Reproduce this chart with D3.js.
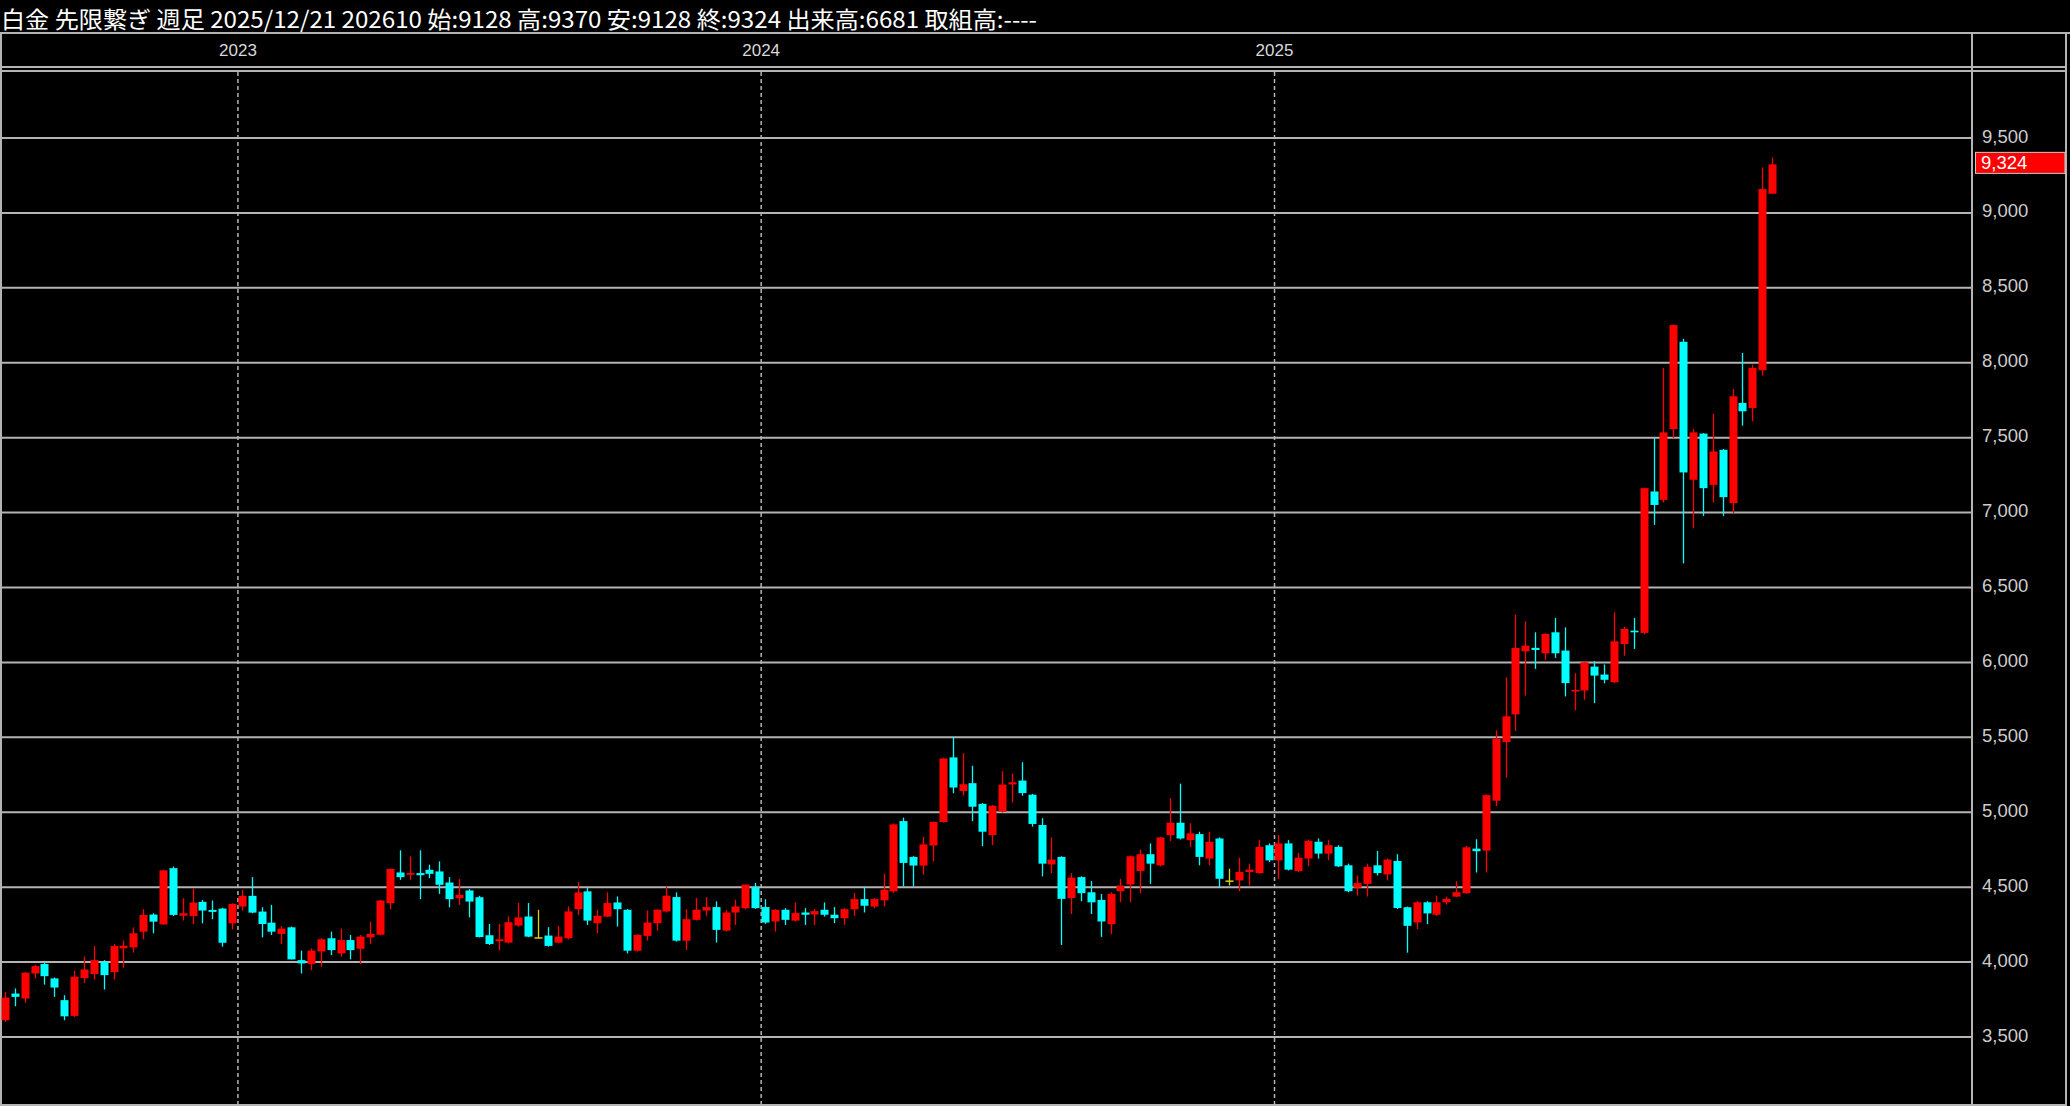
<!DOCTYPE html>
<html>
<head>
<meta charset="utf-8">
<script src="https://cdn.jsdelivr.net/npm/d3@7"></script>
<style>
  html, body { margin: 0; padding: 0; background: #000; }
</style>
</head>
<body>
<div id="box"></div>
<script>
// weekly candles, 2022/07/17 .. 2025/12/21 (week labelled by Sunday)
var firstWeek = new Date(2022, 6, 17);
var lastWeek = new Date(2025, 11, 21);

var openP = [3612,3790,3757,3924,3987,3891,3746,3641,3893,3920,4002,3933,4092,4098,4203,4317,4252,4627,4310,4308,
  4402,4348,4357,4259,4371,4442,4337,4263,4188,4232,4013,3987,4071,4159,4058,4147,4089,4165,4183,4393,
  4598,4583,4594,4616,4605,4531,4426,4478,4433,4179,4140,4130,4244,4304,4166,4177,4130,4159,4353,4472,
  4260,4304,4398,4349,4076,4175,4260,4338,4434,4143,4282,4344,4367,4210,4331,4360,4501,4367,4271,4349,
  4277,4331,4318,4349,4316,4293,4353,4420,4371,4412,4472,4941,4702,4644,4778,4935,5366,5142,5194,5056,
  4848,5004,5186,5211,5117,4915,4652,4702,4428,4567,4466,4415,4253,4473,4518,4608,4720,4646,4848,4930,
  4814,4854,4691,4825,4545,4545,4601,4594,4780,4679,4792,4608,4691,4803,4724,4769,4646,4496,4522,4646,
  4585,4675,4366,4265,4399,4316,4399,4437,4460,4757,4744,5077,5469,5653,6074,6097,6061,6201,6079,5806,
  5813,5972,5919,5868,6123,6212,6197,7141,7085,7558,8140,7219,7527,7185,7419,7063,7732,7698,7950,9128];
var highP = [3801,3824,3935,3980,4002,3897,3779,3942,4036,4107,4013,4121,4143,4232,4353,4326,4616,4638,4426,4493,
  4415,4411,4362,4393,4482,4567,4366,4382,4241,4237,4076,4092,4159,4203,4223,4181,4181,4270,4415,4625,
  4746,4705,4746,4650,4672,4567,4554,4487,4442,4254,4255,4304,4394,4394,4349,4233,4242,4371,4534,4494,
  4349,4465,4438,4353,4186,4344,4353,4505,4465,4353,4427,4434,4405,4349,4416,4517,4528,4420,4353,4360,
  4398,4360,4353,4398,4367,4360,4461,4499,4427,4590,4926,4964,4707,4836,4939,5364,5500,5395,5310,5061,
  5049,5274,5258,5334,5123,4960,4832,4706,4594,4572,4540,4455,4466,4556,4711,4751,4792,4836,5094,5191,
  4926,4870,4870,4832,4623,4697,4657,4814,4792,4848,4814,4729,4818,4825,4814,4780,4657,4578,4657,4742,
  4691,4720,4370,4406,4406,4444,4437,4540,4775,4820,5119,5547,5901,6318,6274,6201,6194,6296,6234,5928,
  6006,6008,5986,6334,6238,6296,7167,7497,7966,8256,8160,7558,7531,7660,7424,7825,8066,7988,9304,9370];
var lowP = [3600,3705,3728,3891,3850,3768,3612,3634,3862,3884,3817,3884,3964,4063,4152,4192,4248,4308,4277,4254,
  4259,4286,4103,4219,4344,4326,4165,4181,4121,4018,3924,3946,3969,4047,4036,4018,3987,4121,4179,4353,
  4549,4549,4420,4560,4455,4366,4382,4299,4165,4114,4078,4125,4237,4166,4159,4103,4125,4152,4315,4248,
  4193,4300,4237,4058,4070,4143,4210,4331,4137,4081,4277,4309,4130,4204,4248,4353,4356,4255,4204,4248,
  4271,4248,4248,4304,4260,4248,4309,4331,4360,4371,4461,4505,4505,4584,4673,4930,5127,5113,4941,4774,
  4780,4998,5065,5110,4904,4572,4594,4114,4321,4406,4321,4168,4186,4399,4399,4460,4522,4639,4809,4818,
  4769,4646,4646,4500,4511,4473,4511,4590,4668,4556,4612,4601,4639,4691,4679,4635,4466,4444,4437,4578,
  4545,4354,4063,4220,4253,4309,4383,4433,4456,4598,4598,5041,5232,5542,5779,5957,6017,6030,5773,5680,
  5751,5728,5861,5861,6045,6090,6188,6918,7067,7497,6661,6895,6978,7067,6978,6996,7580,7609,7915,9128];
var closeP = [3763,3768,3929,3973,3906,3830,3638,3902,3951,4013,3913,4107,4109,4192,4315,4270,4612,4315,4326,4397,
  4344,4335,4129,4388,4442,4330,4254,4203,4223,4018,3991,4076,4152,4080,4147,4080,4170,4188,4411,4621,
  4567,4594,4580,4589,4516,4420,4449,4404,4167,4121,4152,4266,4298,4170,4166,4108,4170,4338,4465,4277,
  4309,4394,4353,4076,4181,4264,4349,4443,4143,4286,4349,4367,4215,4331,4371,4517,4360,4264,4349,4282,
  4327,4316,4340,4316,4293,4353,4420,4376,4420,4483,4919,4662,4644,4785,4935,5359,5165,5187,5037,4870,
  5043,5184,5200,5128,4922,4657,4684,4422,4563,4460,4399,4271,4455,4511,4706,4720,4657,4832,4930,4825,
  4859,4702,4803,4556,4545,4601,4617,4769,4679,4792,4617,4697,4809,4724,4780,4639,4473,4527,4635,4594,
  4684,4361,4242,4399,4325,4399,4422,4466,4766,4740,5114,5491,5640,6097,6112,6083,6190,6061,5862,5817,
  6001,5912,5884,6141,6223,6201,7163,7051,7535,8251,7268,7535,7163,7408,7103,7776,7676,7966,9159,9324];

var volume = 6681;
var openInterest = "----";
var yearLabels = ["2023", "2024", "2025"];
var priceTicks = [3500, 4000, 4500, 5000, 5500, 6000, 6500, 7000, 7500, 8000, 8500, 9000, 9500];

var W = 2070, H = 1106;
var plotRight = 1972, plotTop = 71, axisRight = 2066;

var weeks = d3.timeSunday.range(firstWeek, d3.timeDay.offset(lastWeek, 1));
var candles = weeks.map(function(d, i) {
    return { date: d, o: openP[i], h: highP[i], l: lowP[i], c: closeP[i] };
});

var svg = d3.select("#box")
    .append("svg")
    .attr("width", W)
    .attr("height", H)
    .style("display", "block")
    .style("background", "#000");

var x = d3.scaleBand()
    .domain(weeks)
    .range([0, 1777])
    .padding(0);

var y = d3.scaleLinear()
    .domain([3500, 9500])
    .range([1037, 138]);

// header
var last = candles[candles.length - 1];
var fmtDate = d3.timeFormat("%Y/%m/%d");
var title = "白金 先限繋ぎ 週足 " + fmtDate(last.date) + " 202610 始:" + last.o + " 高:" + last.h +
    " 安:" + last.l + " 終:" + last.c + " 出来高:" + volume + " 取組高:" + openInterest;
svg.append("text")
    .attr("x", 1)
    .attr("y", 28)
    .attr("fill", "#ffffff")
    .attr("textLength", 1036)
    .attr("lengthAdjust", "spacingAndGlyphs")
    .style("font-family", "'Noto Sans CJK JP', sans-serif")
    .style("font-size", "23px")
    .text(title);

// frame
var frame = svg.append("g").attr("stroke", "#b4b4b4").attr("stroke-width", 2).attr("fill", "none");
frame.append("line").attr("x1", 0).attr("x2", W).attr("y1", 33).attr("y2", 33);
frame.append("line").attr("x1", 0).attr("x2", axisRight).attr("y1", 67).attr("y2", 67);
frame.append("line").attr("x1", 0).attr("x2", axisRight).attr("y1", 71).attr("y2", 71);
frame.append("line").attr("x1", 1).attr("x2", 1).attr("y1", 33).attr("y2", H);
frame.append("line").attr("x1", plotRight).attr("x2", plotRight).attr("y1", 33).attr("y2", H);
frame.append("line").attr("x1", axisRight).attr("x2", axisRight).attr("y1", 33).attr("y2", H);
frame.append("line").attr("x1", 0).attr("x2", axisRight).attr("y1", H - 1).attr("y2", H - 1);

// horizontal grid + price labels
svg.append("g")
    .selectAll("line")
    .data(priceTicks)
    .enter()
    .append("line")
    .attr("x1", 0)
    .attr("x2", plotRight)
    .attr("y1", function(d) { return y(d); })
    .attr("y2", function(d) { return y(d); })
    .attr("stroke", "#b4b4b4")
    .attr("stroke-width", 2);

svg.append("g")
    .selectAll("text")
    .data(priceTicks)
    .enter()
    .append("text")
    .attr("x", 1982)
    .attr("y", function(d) { return y(d) - 2; })
    .attr("dominant-baseline", "central")
    .attr("fill", "#cccccc")
    .style("font-family", "'Liberation Sans', Arial, sans-serif")
    .style("font-size", "18.5px")
    .text(d3.format(","));

// year separators
var yearStarts = yearLabels.map(function(yr) {
    var first = weeks.find(function(d) { return d.getFullYear() === +yr; });
    return { label: yr, xpos: x(first) + 1 };
});

svg.append("g")
    .selectAll("line")
    .data(yearStarts)
    .enter()
    .append("line")
    .attr("x1", function(d) { return d.xpos; })
    .attr("x2", function(d) { return d.xpos; })
    .attr("y1", plotTop + 1)
    .attr("y2", H)
    .attr("stroke", "#b4b4b4")
    .attr("stroke-width", 1.5)
    .attr("stroke-dasharray", "4,3");

svg.append("g")
    .selectAll("text")
    .data(yearStarts)
    .enter()
    .append("text")
    .attr("x", function(d) { return d.xpos; })
    .attr("y", 50)
    .attr("text-anchor", "middle")
    .attr("dominant-baseline", "central")
    .attr("fill", "#d8d8d8")
    .style("font-family", "'Liberation Sans', Arial, sans-serif")
    .style("font-size", "17px")
    .text(function(d) { return d.label; });

// candles
function candleColor(d) {
    if (d.c > d.o) return "#ff0000";
    if (d.c < d.o) return "#00ffff";
    return "#d8d000";
}

var bw = 8;
var node = svg.append("g")
    .selectAll(".candle")
    .data(candles)
    .enter()
    .append("g")
    .attr("class", "candle");

node.append("line")
    .attr("x1", function(d) { return Math.round(x(d.date) + x.bandwidth() / 2) + 0.5; })
    .attr("x2", function(d) { return Math.round(x(d.date) + x.bandwidth() / 2) + 0.5; })
    .attr("y1", function(d) { return y(d.h); })
    .attr("y2", function(d) { return y(d.l); })
    .attr("stroke", candleColor)
    .attr("stroke-width", 1.3);

node.append("rect")
    .attr("x", function(d) { return Math.round(x(d.date) + x.bandwidth() / 2) + 0.5 - bw / 2; })
    .attr("width", bw)
    .attr("y", function(d) { return y(Math.max(d.o, d.c)); })
    .attr("height", function(d) { return Math.max(1.5, Math.abs(y(d.o) - y(d.c))); })
    .attr("fill", candleColor);

// last price marker
var py = y(last.c);
svg.append("rect")
    .attr("x", plotRight + 3.5)
    .attr("y", py - 12)
    .attr("width", axisRight - plotRight - 4.5)
    .attr("height", 21)
    .attr("fill", "#ff0000")
    .attr("stroke", "#c8c8c8")
    .attr("stroke-width", 1);
svg.append("text")
    .attr("x", 1981)
    .attr("y", py - 2)
    .attr("dominant-baseline", "central")
    .attr("fill", "#ffffff")
    .style("font-family", "'Liberation Sans', Arial, sans-serif")
    .style("font-size", "18.5px")
    .text(d3.format(",")(last.c));
</script>
</body>
</html>
